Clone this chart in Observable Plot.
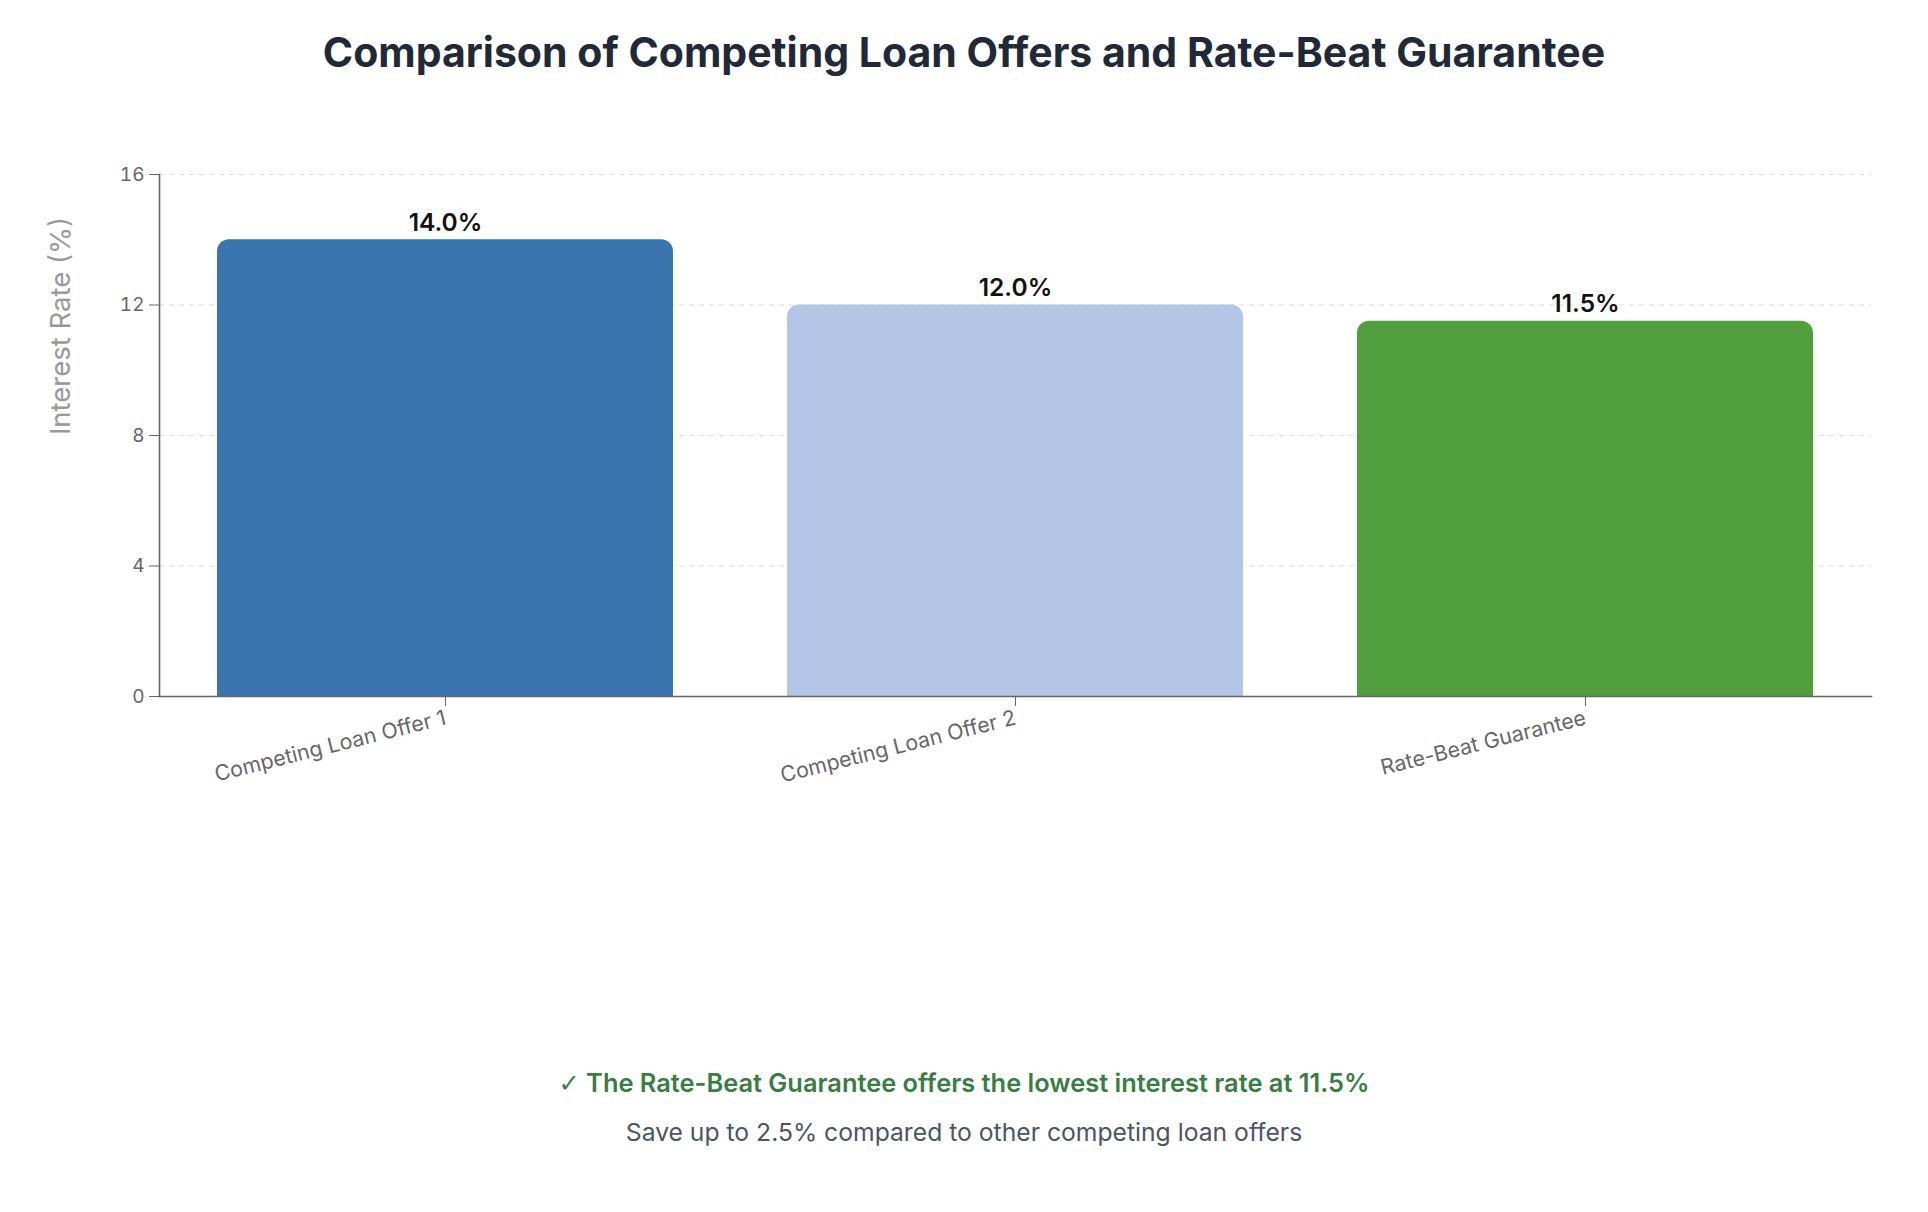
<!DOCTYPE html>
<html><head><meta charset="utf-8">
<script src="https://cdn.jsdelivr.net/npm/d3@7"></script>
<script src="https://cdn.jsdelivr.net/npm/@observablehq/plot@0.6"></script>
<style>
body{margin:0;background:#fff;font-family:Inter, sans-serif;}
#wrap{position:relative;width:1928px;height:1212px;overflow:hidden;}
#title{position:absolute;left:0;width:1928px;top:28px;text-align:center;font-size:41px;font-weight:700;color:#1f2937;line-height:48px;}
#chart{position:absolute;left:0;top:100px;}
#ylabel{position:absolute;left:60px;top:326px;transform:translate(-50%,-50%) rotate(-90deg);white-space:nowrap;font-size:27.5px;color:#999;}
.foot{position:absolute;left:0;width:1928px;text-align:center;line-height:30px;}
#foot1{top:1068px;color:#3a7d44;font-weight:600;font-size:25.4px;}
#foot1 .chk{font-family:"DejaVu Sans", sans-serif;font-weight:400;}
#foot2{top:1117px;color:#4b5563;font-size:24.7px;}
</style></head>
<body>
<div id="wrap">
  <div id="title">Comparison of Competing Loan Offers and Rate-Beat Guarantee</div>
  <div id="chart"></div>
  <div id="ylabel">Interest Rate (%)</div>
  <div class="foot" id="foot1"><span class="chk">✓</span> The Rate-Beat Guarantee offers the lowest interest rate at 11.5%</div>
  <div class="foot" id="foot2">Save up to 2.5% compared to other competing loan offers</div>
</div>
<script>
const categories = ["Competing Loan Offer 1", "Competing Loan Offer 2", "Rate-Beat Guarantee"];
const rates = [14.0, 12.0, 11.5];
const barColors = ["#3b75af", "#b3c6e5", "#519e3e"];
const yTicks = [0, 4, 8, 12, 16];

const data = categories.map((c, i) => ({category: c, rate: rates[i]}));

const chart = Plot.plot({
  width: 1928,
  height: 700,
  marginLeft: 159,
  marginRight: 57,
  marginTop: 74,
  marginBottom: 104,
  style: {fontFamily: "Inter, sans-serif", fontSize: "18px", color: "#666", background: "white"},
  x: {domain: categories, paddingInner: 0.2, paddingOuter: 0.1, label: null},
  y: {domain: [0, 16], label: null},
  color: {domain: categories, range: barColors},
  marks: [
    Plot.gridY(yTicks, {stroke: "#dcdcdc", strokeOpacity: 1, strokeWidth: 1.2, strokeDasharray: "5,5"}),
    Plot.barY(data, {x: "category", y: "rate", fill: "category", rx: 12, insetBottom: -24, clip: true}),
    Plot.text(data, {x: "category", y: "rate", text: d => d.rate.toFixed(1) + "%", dy: -9, lineAnchor: "bottom", fontSize: 24.5, fontWeight: 600, fill: "#111"}),
    Plot.axisY(yTicks, {tickSize: 10, tickPadding: 5, label: null, stroke: "#666", fill: "#666", fontSize: 19}),
    Plot.axisX({tickSize: 10, tickPadding: 11, tickRotate: -14, label: null, stroke: "#666", fill: "#666", fontSize: 21.3}),
    Plot.frame({anchor: "left", stroke: "#666", strokeWidth: 1.6}),
    Plot.frame({anchor: "bottom", stroke: "#666", strokeWidth: 1.6})
  ]
});
document.getElementById("chart").appendChild(chart);
</script>
</body></html>
